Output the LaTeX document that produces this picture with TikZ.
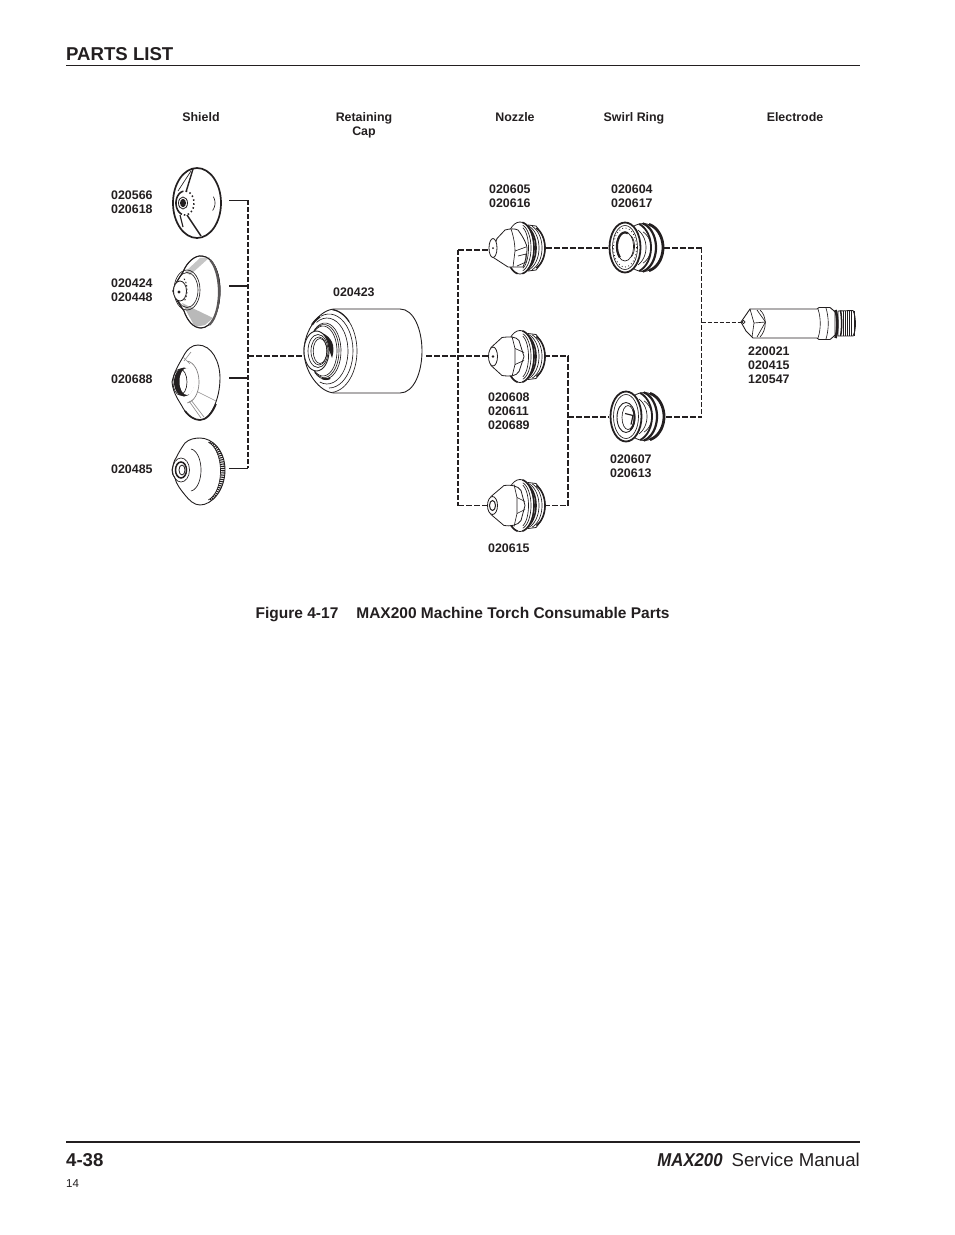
\documentclass[tikz,border=0pt]{standalone}
\usepackage{fontspec}
\setmainfont{Liberation Sans}
\newfontfamily\maxfont[FakeStretch=0.9]{Liberation Sans}
\definecolor{ink}{HTML}{231F20}
\newcommand{\earc}[6]{plot[domain=#5:#6,samples=25,variable=\t] ({#1+#3*cos(\t)},{#2+#4*sin(\t)})}
\tikzset{
  lbl/.style={anchor=north west,inner sep=0pt,align=left,text=ink,font=\fontsize{12.4}{14}\selectfont\bfseries},
  hdr/.style={anchor=north,inner sep=0pt,align=center,text=ink,font=\fontsize{12.4}{14}\selectfont\bfseries},
  art/.style={draw=ink,line width=0.8pt,fill=white,line join=round},
  artline/.style={draw=ink,line width=0.65pt,line join=round},
  bold/.style={draw=ink,line width=1.6pt,line join=round},
  thindash/.style={draw=ink,line width=0.7pt,dash pattern=on 4pt off 2pt},
  meddash/.style={draw=ink,line width=1.1pt,dash pattern=on 5pt off 2pt},
  thickdash/.style={draw=ink,line width=1.7pt,dash pattern=on 5.5pt off 2.5pt},
  thinstub/.style={draw=ink,line width=0.9pt},
  thickstub/.style={draw=ink,line width=2pt},
}
\newcommand{\nozzlerear}[1]{
  \begin{scope}[yshift=-#1pt]
    \path[art] (528,-23) -- (536,-22) .. controls (542,-15) and (545,-8) .. (545,0) .. controls (545,8) and (542,15) .. (536,22) -- (528,23) -- cycle;
    \draw[bold] \earc{530}{0}{15}{22}{-65}{65};
    \draw[artline] \earc{527}{0}{15}{23}{-70}{70};
    \draw[artline] \earc{524}{0}{15}{23}{-70}{70};
    \draw[bold] \earc{521}{0}{15}{23.5}{-70}{70};
    \path[art] (520,0) ellipse [x radius=14,y radius=26];
    \draw[bold] \earc{520}{0}{14}{26}{-80}{80};
    \draw[bold] \earc{520}{0}{14}{26}{100}{140};
    \draw[artline] \earc{520}{0}{11}{23.5}{-75}{75};
    \draw[artline] \earc{520}{0}{8.5}{21.5}{-70}{70};
  \end{scope}
}
\newcommand{\swirl}[2]{
  \begin{scope}[yshift=-#1pt]
    \path[art] (#2+34,0) ellipse [x radius=20,y radius=24];
    \draw[draw=ink,line width=2.8pt] \earc{#2+35}{0}{19}{24}{-75}{75};
    \draw[draw=ink,line width=2.2pt] \earc{#2+29}{0}{18}{25}{-75}{75};
    \draw[draw=ink,line width=1.8pt] \earc{#2+24}{0}{18}{25}{-70}{70};
    \draw[artline] \earc{#2+21}{0}{16}{20}{-60}{60};
    \draw[artline] \earc{#2+26}{0}{16}{18}{-60}{60};
    \path[draw=ink,line width=1.8pt,fill=white] (#2+16,0) ellipse [x radius=15.5,y radius=25];
    \draw[artline] (#2+16,0) ellipse [x radius=12.5,y radius=22];
  \end{scope}
}
\begin{document}
\begin{tikzpicture}[x=1pt,y=-1pt]
\useasboundingbox (0,0) rectangle (954,1235);
\fill[white] (0,0) rectangle (954,1235);

% page furniture
\coordinate (hl) at (66,65.3); \coordinate (hr) at (860,65.3);
\draw[draw=ink,line width=0.8pt] (hl) -- (hr);
\coordinate (fl) at (66,1141.5); \coordinate (fr) at (860,1141.5);
\draw[draw=ink,line width=2pt] (fl) -- (fr);
\node (ptitle) [anchor=base west,inner sep=0pt,text=ink,font=\fontsize{18.6}{22}\selectfont\bfseries] at (66,60) {PARTS LIST};
\node (pnum) [anchor=base west,inner sep=0pt,text=ink,font=\fontsize{18.6}{22}\selectfont\bfseries] at (66,1166) {4-38};
\node (pman) [anchor=base east,inner sep=0pt,text=ink,font=\fontsize{18.6}{22}\selectfont] at (860,1166) {{\maxfont\bfseries\itshape MAX200}\hspace{9pt}Service Manual};
\node (pcode) [anchor=base west,inner sep=0pt,text=ink,font=\fontsize{11.5}{13}\selectfont] at (66,1187) {14};
\node (cap) [anchor=base west,inner sep=0pt,text=ink,font=\fontsize{15.5}{18}\selectfont\bfseries] at (255.5,618) {Figure 4-17\hspace{18pt}MAX200 Machine Torch Consumable Parts};

% column headers
\node (h1) [hdr] at (201,112.5) {Shield};
\node (h2) [hdr] at (364,112.5) {Retaining\\Cap};
\node (h3) [hdr] at (515,112.5) {Nozzle};
\node (h4) [hdr] at (634,112.5) {Swirl Ring};
\node (h5) [hdr] at (795,112.5) {Electrode};

% part numbers
\node (l1) [lbl] at (111,190.5) {020566\\020618};
\node (l2) [lbl] at (111,278.5) {020424\\020448};
\node (l3) [lbl] at (111,374.5) {020688};
\node (l4) [lbl] at (111,464.5) {020485};
\node (l5) [lbl] at (333,287.5) {020423};
\node (l6) [lbl] at (489,184.5) {020605\\020616};
\node (l7) [lbl] at (611,184.5) {020604\\020617};
\node (l8) [lbl] at (488,392.5) {020608\\020611\\020689};
\node (l9) [lbl] at (488,543.5) {020615};
\node (l10) [lbl] at (610,454.5) {020607\\020613};
\node (l11) [lbl] at (748,346.5) {220021\\020415\\120547};

% ---------- connector points
\coordinate (s1) at (229,200);  \coordinate (s2) at (229,285.5);
\coordinate (s3) at (229,378);  \coordinate (s4) at (229,468);
\coordinate (bs1) at (248,200); \coordinate (bs2) at (248,285.5);
\coordinate (bs3) at (248,378); \coordinate (bs4) at (248,468);
\coordinate (bsm) at (248,356); \coordinate (capL) at (304,356);
\coordinate (capR) at (426,356); \coordinate (nm) at (488,356);
\coordinate (nt) at (458,250);  \coordinate (nb) at (458,505.5);
\coordinate (n1L) at (490,250); \coordinate (n3L) at (488,505.5);
\coordinate (n1R) at (546,248); \coordinate (r1L) at (608,248);
\coordinate (n2R) at (544,356); \coordinate (n3R) at (543,505.5);
\coordinate (c2) at (568,356);  \coordinate (c3) at (568,505.5);
\coordinate (cm) at (568,417);  \coordinate (r2L) at (609,417);
\coordinate (r1R) at (664,248); \coordinate (r2R) at (666,417);
\coordinate (d1) at (701.5,248);\coordinate (d2) at (701.5,417);
\coordinate (dm) at (701.5,322);\coordinate (eL) at (741,322);

% ---------- connectors
\draw[meddash] (bs1) -- (bs4);
\draw[thinstub] (s1) -- (bs1);
\draw[thickstub] (s2) -- (bs2);
\draw[thickstub] (s3) -- (bs3);
\draw[thinstub] (s4) -- (bs4);
\draw[thickdash] (bsm) -- (capL);
\draw[thickdash] (capR) -- (nm);
\draw[meddash] (nt) -- (nb);
\draw[thickdash] (nt) -- (n1L);
\draw[thickdash] (nb) -- (n3L);
\draw[thickdash] (n1R) -- (r1L);
\draw[thickdash] (n2R) -- (c2) -- (c3) -- (n3R);
\draw[thickdash] (cm) -- (r2L);
\draw[thickdash] (r1R) -- (d1);
\draw[thickdash] (r2R) -- (d2);
\draw[meddash] (d1) -- (d2);
\draw[thindash] (dm) -- (eL);

% ---------- shield 020566
\path[draw=ink,line width=1.7pt,fill=white] (197,203) ellipse [x radius=24,y radius=35];
\draw[draw=ink,line width=1.4pt] (186,192) -- (193,169);
\draw[draw=ink,line width=1.4pt] (187,215) -- (201,236);
\draw[draw=ink,line width=1.1pt] (180,215) -- (183,227);
\draw[artline] (178,191) -- (191,171);
\draw[artline] \earc{197}{203}{18}{15}{-25}{30};
\fill[ink] (183,203) ellipse [x radius=3,y radius=4.2];
\draw[draw=ink,line width=1.6pt] \earc{185}{203}{9}{12}{110}{250};
\draw[draw=ink,line width=1.5pt,dash pattern=on 1.5pt off 2.5pt] \earc{185}{203}{9}{12}{-110}{110};
\draw[draw=ink,line width=0.8pt] (183,203) ellipse [x radius=4.5,y radius=6];

% ---------- shield 020424
\path[art] (173,291) .. controls (175,283) and (180,277) .. (183,272) .. controls (187,262) and (195,255) .. (202,256) .. controls (213,257) and (220,272) .. (220,291) .. controls (220,310) and (212,328) .. (201,328) .. controls (193,328) and (187,320) .. (184,311) .. controls (180,305) and (175,298) .. (173,291) -- cycle;
\fill[gray!55] (182,303) -- (213,318) -- (205,325) -- (195,327) -- cycle;
\fill[gray!45] (185,272) -- (200,258) -- (210,257) -- (190,275) -- cycle;
\draw[draw=ink,line width=1pt] (173,291) .. controls (175,283) and (180,277) .. (183,272) .. controls (187,262) and (195,255) .. (202,256) .. controls (213,257) and (220,272) .. (220,291) .. controls (220,310) and (212,328) .. (201,328) .. controls (193,328) and (187,320) .. (184,311) .. controls (180,305) and (175,298) .. (173,291) -- cycle;
\draw[draw=ink!75,line width=2.2pt] \earc{204}{292}{15}{35}{-65}{70};
\draw[artline] (187,290) ellipse [x radius=11,y radius=17.5];
\draw[artline] (187,290) ellipse [x radius=13,y radius=20];
\path[art] (180,291) ellipse [x radius=6.5,y radius=10];
\fill[ink] (179,292) circle (1.6);
\draw[draw=ink,line width=0.9pt,dash pattern=on 1.5pt off 2pt] \earc{181}{290}{6}{13}{-60}{60};

% ---------- shield 020688
\path[art,line width=0.9pt] (172,382) .. controls (174,372) and (179,364) .. (183,357) .. controls (187,349) and (192,345) .. (198,345) .. controls (212,345) and (220,362) .. (220,378) .. controls (220,400) and (210,420) .. (200,420) .. controls (192,420) and (186,414) .. (183,408) .. controls (180,402) and (173,394) .. (172,382) -- cycle;
\draw[draw=ink,line width=1.6pt] (216,404) .. controls (212,414) and (206,420) .. (200,420) .. controls (194,420) and (189,416) .. (185,411);
\draw[artline,draw=ink!60] \earc{186}{382}{13}{21}{-85}{85};
\draw[artline,draw=ink!50] (183,357) -- (190,364);
\draw[artline,draw=ink!50] (191,352) -- (184,361);
\draw[artline,draw=ink!50] (198,392) -- (216,401);
\draw[artline,draw=ink!50] (191,400) -- (204,417);
\draw[artline,draw=ink!50] (189,401) -- (201,418);
\fill[ink] (184,382) ellipse [x radius=10,y radius=14.5];
\path[fill=white] (187,381.5) ellipse [x radius=7.5,y radius=13.5];
\draw[artline] (180,382) ellipse [x radius=7,y radius=13];

% ---------- shield 020485
\path[art,line width=0.9pt] (172,470) .. controls (173,466) and (174,460) .. (176,458) .. controls (179,452) and (182,447) .. (185,443) .. controls (189,439) and (195,438) .. (200,438) .. controls (212,438) and (225,450) .. (225,470) .. controls (225,490) and (212,505) .. (200,505) .. controls (194,505) and (189,500) .. (185,495) .. controls (181,490) and (176,484) .. (175,478) .. controls (173,476) and (172,473) .. (172,470) -- cycle;
\begin{scope}
\clip (172,470) .. controls (173,466) and (174,460) .. (176,458) .. controls (179,452) and (182,447) .. (185,443) .. controls (189,439) and (195,438) .. (200,438) .. controls (212,438) and (225,450) .. (225,470) .. controls (225,490) and (212,505) .. (200,505) .. controls (194,505) and (189,500) .. (185,495) .. controls (181,490) and (176,484) .. (175,478) .. controls (173,476) and (172,473) .. (172,470) -- cycle;
\draw[draw=ink,line width=5pt,dash pattern=on 1.1pt off 1.1pt] \earc{204}{471}{19}{32}{-70}{70};
\end{scope}
\draw[artline] \earc{204}{471}{16.5}{30}{-75}{75};
\draw[artline] \earc{190}{470}{11}{21}{-85}{85};
\draw[artline] (181,470) ellipse [x radius=8.5,y radius=12];
\draw[draw=ink,line width=1.5pt] (181,470) ellipse [x radius=5.5,y radius=8];
\path[art] (182,470) ellipse [x radius=3,y radius=5];

% ---------- retaining cap 020423
\path[art,line width=0.9pt] (335,309) -- (400,309) .. controls (414,309) and (422,330) .. (422,351) .. controls (422,372) and (414,393) .. (400,393) -- (335,393) .. controls (320,393) and (304,372) .. (304,351) .. controls (304,330) and (320,309) .. (335,309) -- cycle;
\draw[draw=ink,line width=1.3pt] \earc{330}{351}{27}{41.5}{-85}{-45};
\draw[artline] \earc{330}{351}{27}{41.5}{-45}{85};
\draw[artline] \earc{329}{351}{24}{37}{-110}{90};
\draw[artline] \earc{327}{351}{21}{33}{-120}{110};
\draw[artline] \earc{325}{351}{16}{28}{-140}{130};
\draw[artline] \earc{324}{351}{15}{26.5}{-140}{130};
\draw[artline] \earc{323}{351}{14}{25}{-140}{130};
\draw[draw=ink,line width=2pt] \earc{329}{351}{24}{37}{-135}{-112};
\draw[draw=ink,line width=2pt] \earc{326}{351}{16}{28}{75}{105};
\fill[ink] (315,332) .. controls (321,331) and (331,336) .. (333,345) .. controls (334,350) and (333,355) .. (332,358) .. controls (329,348) and (324,340) .. (315,332) -- cycle;
\path[art,line width=0.9pt] (316.5,351) ellipse [x radius=12.5,y radius=20];
\draw[artline] (318,351) ellipse [x radius=10,y radius=16.5];
\draw[artline] (319,351) ellipse [x radius=8,y radius=14];
\draw[artline] (320,351) ellipse [x radius=6.8,y radius=12.5];

% ---------- nozzle 020605
\nozzlerear{248}
\begin{scope}[yshift=-248pt]
\path[art] (497,-9.5) -- (505,-18) .. controls (510,-19.5) and (515,-19.5) .. (518,-18) .. controls (524,-10) and (527,-3) .. (527,0) .. controls (527,8) and (525,14) .. (523,19) -- (508,19) -- (491,8) -- cycle;
\draw[artline] (511,-19) .. controls (514,-10) and (515,-3) .. (515,3) -- (513,19);
\draw[artline] (515,3) -- (526,-1);
\draw[artline] (518,8) -- (526,6) -- (526,14) -- (517,18);
\path[art] (493,0) ellipse [x radius=4,y radius=9.5];
\fill[ink] (493,0) circle (1);
\end{scope}

% ---------- nozzle 020608
\nozzlerear{356.5}
\begin{scope}[yshift=-356.5pt]
\path[art] (491,-9) -- (502,-19) .. controls (510,-20) and (516,-20) .. (519,-16) -- (524,0) -- (519,15) .. controls (516,20) and (510,20) .. (502,19) -- (491,9) -- cycle;
\draw[artline] (512,-20) -- (515,-8) -- (515,8) -- (512,20);
\draw[artline] (515,-8) -- (524,-4);
\draw[artline] (515,8) -- (524,4);
\path[art] (493,0) ellipse [x radius=4.5,y radius=9.5];
\fill[ink] (493,0) circle (1.4);
\end{scope}

% ---------- nozzle 020615
\nozzlerear{505.5}
\begin{scope}[yshift=-505.5pt]
\path[art] (491,-9) -- (504,-20) .. controls (510,-21) and (518,-20) .. (521,-15) -- (525,0) -- (521,15) .. controls (518,20) and (510,21) .. (504,20) -- (491,9) -- cycle;
\draw[artline] (514,-21) -- (517,-8) -- (517,8) -- (514,21);
\draw[artline] (517,-8) -- (525,-4);
\draw[artline] (517,8) -- (525,4);
\path[art] (492.5,0) ellipse [x radius=5,y radius=9];
\draw[draw=ink,line width=1pt] (492.5,0) ellipse [x radius=3,y radius=5];
\end{scope}

% ---------- swirl ring 020604
\swirl{247.5}{609}
\begin{scope}[yshift=-247.5pt]
\draw[draw=ink,line width=0.8pt,dash pattern=on 0.9pt off 2.5pt] (625,0) ellipse [x radius=11.5,y radius=19.5];
\path[draw=ink,line width=0.7pt,fill=white] (625,-1) ellipse [x radius=8.5,y radius=14.5];
\draw[draw=ink,line width=2.2pt] \earc{625}{-1}{8}{14}{130}{290};
\draw[artline] \earc{628}{-1}{6.5}{12}{-60}{60};
\end{scope}

% ---------- swirl ring 020607
\swirl{416.5}{610}
\begin{scope}[yshift=-416.5pt]
\path[draw=ink,line width=0.9pt,fill=white] (626,1) ellipse [x radius=9,y radius=15];
\draw[draw=ink,line width=1.6pt] \earc{626}{1}{8.5}{14.5}{-30}{60};
\draw[artline] (628,1) ellipse [x radius=6,y radius=12];
\draw[draw=ink,line width=1.2pt] (625,-3) -- (633,-1) -- (631,8);
\end{scope}

% ---------- electrode
\path[art,line width=0.9pt] (741,322) -- (750,309) -- (817,309) -- (819,307.5) -- (830,307.5) -- (833,310) -- (835,312) -- (835,335) -- (833,337) -- (830,339.5) -- (819,339.5) -- (817,338) -- (753,338) -- (746,331) -- cycle;
\path[art,line width=0.9pt] (838,311) -- (853,310.5) .. controls (856,316) and (856.5,330) .. (853,336) -- (838,336) -- cycle;
\foreach \i in {843,845.2,...,854} \draw[draw=ink,line width=1pt] (\i,311) -- (\i,336);
\draw[draw=ink,line width=2.6pt] (835.5,310) .. controls (838,318) and (838,330) .. (835.5,338);
\draw[draw=ink,line width=1.5pt] (840.5,310.5) .. controls (842,318) and (842,330) .. (840.5,336);
\draw[artline] (826,308) .. controls (829,318) and (829,329) .. (826,339);
\draw[artline] (818,309) .. controls (821,318) and (821,329) .. (818,338);
\draw[artline] (757,310) -- (765.5,322) -- (757,337);
\draw[artline] (754,323) -- (765.5,322);
\draw[artline] (750,309) -- (754,323) -- (752,337);
\draw[artline] (760,310) .. controls (767,316) and (767,330) .. (760,337);
\draw[artline] (743.5,322) circle (1.6);
\end{tikzpicture}
\end{document}
